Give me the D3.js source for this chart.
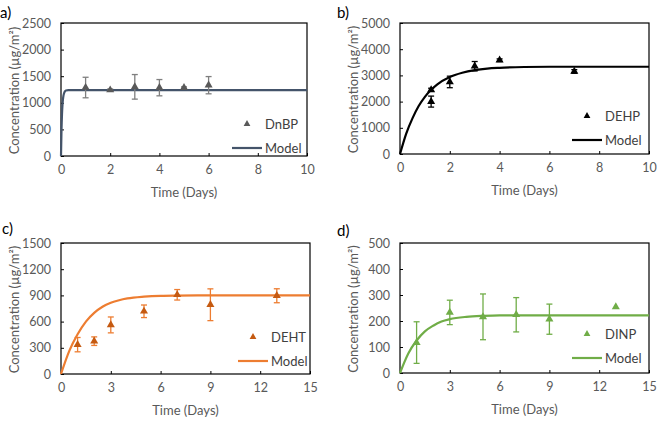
<!DOCTYPE html>
<html><head><meta charset="utf-8">
<script src="https://cdn.jsdelivr.net/npm/d3@7/dist/d3.min.js"></script>
<style>body{margin:0;background:#fff}svg{display:block;font-family:Lato,"Open Sans",sans-serif}</style>
</head><body><svg id="c" width="658" height="423"></svg>
<script>
// ---- data ----
const daysA = [1, 2, 3, 4, 5, 6];
const dnbp = [1287, 1240, 1300, 1284, 1285, 1331];
const dnbpErr = [193, 20, 231, 153, 15, 162];
const modelTA = [0, 0.02, 0.04, 0.06, 0.08, 0.1, 0.15, 0.2, 0.3, 10];
const modelA = [0, 490, 780, 960, 1070, 1135, 1210, 1232, 1240, 1240];

const daysB = [1.25, 1.25, 2, 3, 4, 7];
const dehp = [2000, 2450, 2750, 3350, 3580, 3150];
const dehpErr = [210, 60, 220, 180, 50, 70];
const modelTB = [0, 0.25, 0.5, 0.75, 1, 1.25, 1.5, 2, 2.5, 3, 3.5, 4, 5, 6, 10];
const modelB = [0, 780, 1360, 1830, 2180, 2450, 2660, 2940, 3100, 3200, 3260, 3290, 3320, 3330, 3330];

const daysC = [1, 2, 3, 5, 7, 9, 13];
const deht = [336, 376, 562, 718, 907, 793, 896];
const dehtErr = [82, 49, 91, 72, 60, 182, 80];
const modelTC = [0, 0.5, 1, 1.5, 2, 2.5, 3, 3.5, 4, 5, 6, 7, 9, 15];
const modelC = [0, 265, 455, 600, 700, 770, 815, 845, 865, 885, 895, 898, 900, 900];

const daysD = [1, 3, 5, 7, 9, 13];
const dinp = [117, 233, 216, 224, 207, 254];
const dinpErr = [80, 47, 88, 66, 58, 0];
const modelTD = [0, 0.5, 1, 1.5, 2, 2.5, 3, 4, 5, 6, 15];
const modelD = [0, 75, 125, 160, 182, 198, 207, 216, 220, 222, 222];

const ticksAX = [0, 2, 4, 6, 8, 10], ticksAY = [0, 500, 1000, 1500, 2000, 2500];
const ticksBX = [0, 2, 4, 6, 8, 10], ticksBY = [0, 1000, 2000, 3000, 4000, 5000];
const ticksCX = [0, 3, 6, 9, 12, 15], ticksCY = [0, 300, 600, 900, 1200, 1500];
const ticksDX = [0, 3, 6, 9, 12, 15], ticksDY = [0, 100, 200, 300, 400, 500];

const panels = [
  {lab: "a)", name: "DnBP", box: [61, 307, 23, 156], xd: [0, 10], yd: [0, 2500], tx: ticksAX, ty: ticksAY,
   days: daysA, vals: dnbp, err: dnbpErr, mt: modelTA, mv: modelA,
   line: "#44546A", mark: "#595959", ebar: "#7F7F7F", labPos: [0, 18], leg: [247, 124]},
  {lab: "b)", name: "DEHP", box: [400, 649, 23, 154], xd: [0, 10], yd: [0, 5000], tx: ticksBX, ty: ticksBY,
   days: daysB, vals: dehp, err: dehpErr, mt: modelTB, mv: modelB,
   line: "#000000", mark: "#000000", ebar: "#000000", labPos: [337, 18], leg: [587, 116]},
  {lab: "c)", name: "DEHT", box: [61, 310, 243, 374], xd: [0, 15], yd: [0, 1500], tx: ticksCX, ty: ticksCY,
   days: daysC, vals: deht, err: dehtErr, mt: modelTC, mv: modelC,
   line: "#ED7D31", mark: "#C55A11", ebar: "#ED7D31", labPos: [2, 234], leg: [253, 337]},
  {lab: "d)", name: "DINP", box: [400, 649, 243, 373], xd: [0, 15], yd: [0, 500], tx: ticksDX, ty: ticksDY,
   days: daysD, vals: dinp, err: dinpErr, mt: modelTD, mv: modelD,
   line: "#70AD47", mark: "#70AD47", ebar: "#70AD47", labPos: [337, 236], leg: [587, 334]}
];

const svg = d3.select("#c");
const txt = "#595959";

panels.forEach(p => {
  const [x0, x1, y0, y1] = p.box;
  const x = d3.scaleLinear().domain(p.xd).range([x0, x1]);
  const y = d3.scaleLinear().domain(p.yd).range([y1, y0]);
  const g = svg.append("g");

  // axes with inward ticks
  const ax = g.append("g").attr("transform", `translate(0,${y1})`)
    .call(d3.axisBottom(x).tickValues(p.tx).tickSize(-3).tickPadding(9).tickFormat(d3.format("d")));
  const ay = g.append("g").attr("transform", `translate(${x0},0)`)
    .call(d3.axisLeft(y).tickValues(p.ty).tickSize(-3).tickPadding(10).tickFormat(d3.format("d")));
  [ax, ay].forEach(a => {
    a.select(".domain").remove();
    a.selectAll(".tick line").attr("stroke", "#000").attr("stroke-width", 1);
    a.selectAll(".tick text").attr("fill", txt).style("font-size", "12.5px").style("font-family", "Lato");
  });
  g.append("rect").attr("x", x0).attr("y", y0).attr("width", x1 - x0).attr("height", y1 - y0)
    .attr("fill", "none").attr("stroke", "#000").attr("stroke-width", 1.2);

  // model
  const pts = p.mt.map((t, i) => [t, p.mv[i]]);
  g.append("path").datum(pts).attr("fill", "none").attr("stroke", p.line).attr("stroke-width", 2.2)
    .attr("d", d3.line().x(d => x(d[0])).y(d => y(d[1])).curve(d3.curveMonotoneX));

  // error bars
  const data = p.days.map((d, i) => ({d, v: p.vals[i], e: p.err[i]})).filter(o => o.e > 0);
  const eb = g.append("g").attr("stroke", p.ebar).attr("stroke-width", 1.3);
  data.forEach(o => {
    eb.append("line").attr("x1", x(o.d)).attr("x2", x(o.d)).attr("y1", y(o.v - o.e)).attr("y2", y(o.v + o.e));
    [o.v - o.e, o.v + o.e].forEach(v => eb.append("line")
      .attr("x1", x(o.d) - 3).attr("x2", x(o.d) + 3).attr("y1", y(v)).attr("y2", y(v)));
  });

  // markers
  const tri = d3.symbol().type(d3.symbolTriangle).size(28);
  g.selectAll(".pt").data(p.days.map((d, i) => [d, p.vals[i]])).join("path")
    .attr("d", tri).attr("fill", p.mark)
    .attr("transform", d => `translate(${x(d[0])},${y(d[1])})`);

  // axis titles
  g.append("text").attr("x", (x0 + x1) / 2).attr("y", y1 + 41).attr("text-anchor", "middle")
    .attr("fill", txt).style("font-size", "13px").text("Time (Days)");
  g.append("text").attr("transform", `translate(${x0 - 42},${(y0 + y1) / 2 + 1}) rotate(-90)`)
    .attr("text-anchor", "middle").attr("fill", txt).style("font-size", "13px").text("Concentration (µg/m²)");

  // panel label
  g.append("text").attr("x", p.labPos[0]).attr("y", p.labPos[1]).attr("fill", "#000")
    .style("font-size", "15px").text(p.lab);

  // legend
  const [lx, ly] = p.leg;
  g.append("path").attr("d", d3.symbol().type(d3.symbolTriangle).size(20)).attr("fill", p.mark)
    .attr("transform", `translate(${lx},${ly})`);
  g.append("text").attr("x", lx + 18).attr("y", ly + 4.5).attr("fill", "#404040")
    .style("font-size", "13px").text(p.name);
  g.append("line").attr("x1", lx - 15).attr("x2", lx + 15).attr("y1", ly + 24).attr("y2", ly + 24)
    .attr("stroke", p.line).attr("stroke-width", 2.2);
  g.append("text").attr("x", lx + 18).attr("y", ly + 28.5).attr("fill", "#404040")
    .style("font-size", "13px").text("Model");
});
</script></body></html>
